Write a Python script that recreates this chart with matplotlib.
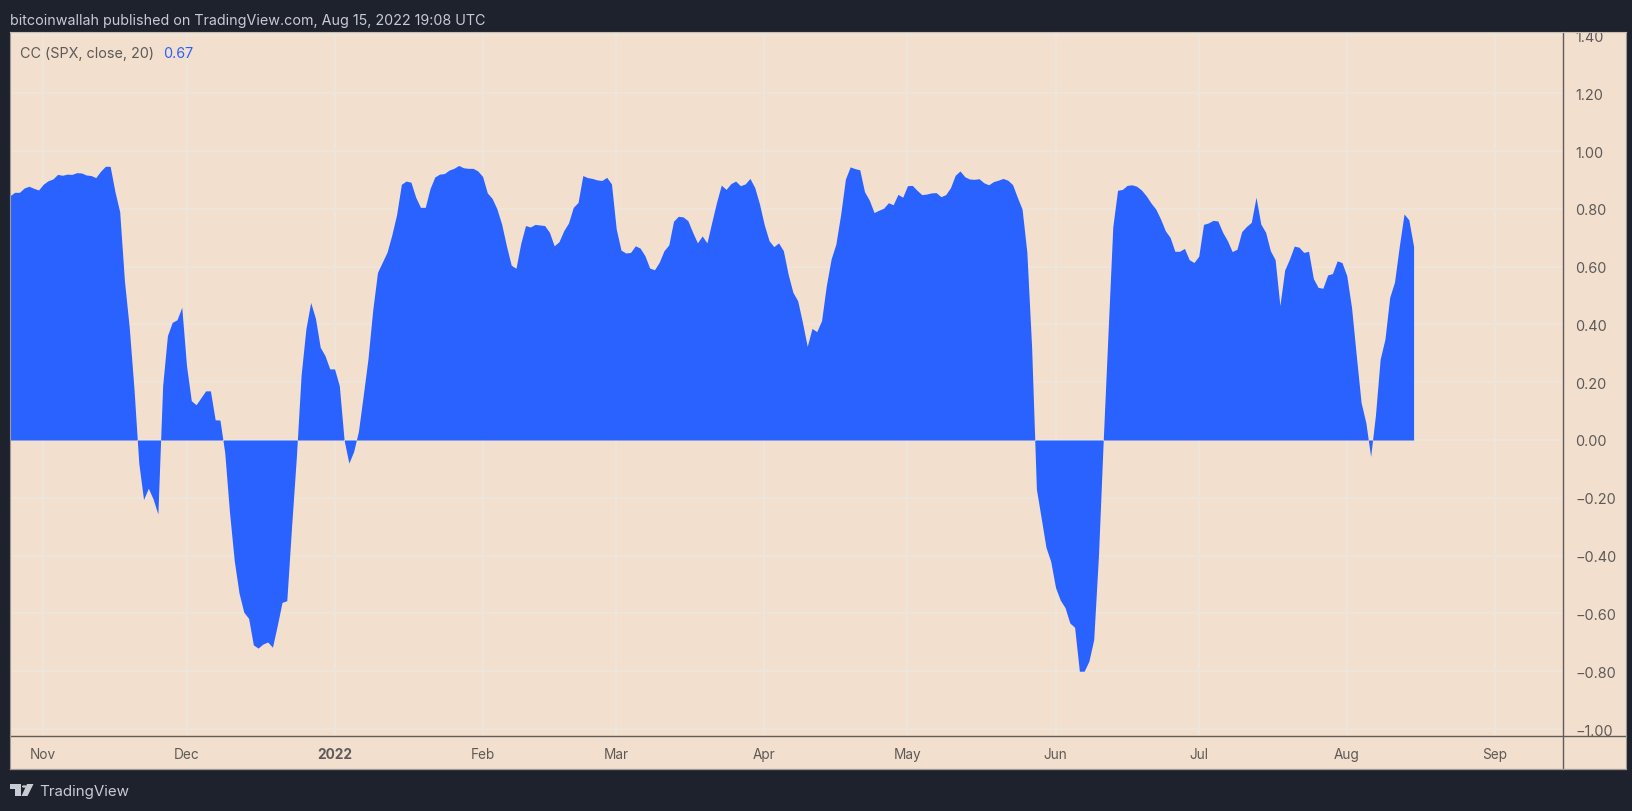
import matplotlib
matplotlib.use("Agg")
import matplotlib.pyplot as plt
import matplotlib.dates as mdates
from matplotlib.patches import Rectangle, Polygon, Circle
from matplotlib.lines import Line2D
import pandas as pd
import numpy as np

oct21 = [.845,.857,.857,.872,.878,.871,.865]
nov21 = [.885,.897,.903,.919,.916,.92,.919,.925,.924,.917,.915,.908,.93,.947,.947,.86,.79,.55,.39,.176,
         -.08,-.206,-.167,-.204,-.256,.188,.361,.407,.416,.459]
dec21 = [.257,.136,.122,.146,.17,.17,.07,.069,-.043,-.25,-.418,-.53,-.596,-.617,-.709,-.72,-.706,-.699,-.717,-.642,
         -.562,-.556,-.30,-.06,.225,.384,.476,.421,.321,.292,.246]
jan22 = [.246,.188,0.0,-.08,-.04,.03,.153,.28,.45,.58,.615,.65,.71,.78,.885,.896,.892,.84,.805,.805,
         .87,.91,.92,.922,.934,.94,.95,.942,.94,.94,.931]
feb22 = [.912,.855,.836,.80,.747,.672,.605,.594,.68,.742,.737,.746,.744,.742,.719,.672,.686,.724,.751,.805,
         .822,.915,.908,.905,.9,.898,.909,.886]
mar22 = [.73,.657,.647,.649,.672,.664,.638,.595,.589,.615,.655,.675,.757,.774,.772,.759,.719,.682,.706,.682,
         .753,.822,.882,.867,.887,.896,.88,.886,.905,.874,.817]
apr22 = [.745,.69,.669,.682,.655,.574,.511,.482,.407,.324,.386,.375,.413,.534,.626,.678,.78,.903,.945,.939,
         .935,.859,.83,.787,.795,.802,.821,.814,.85,.84]
may22 = [.88,.881,.864,.849,.851,.855,.856,.842,.849,.873,.916,.931,.911,.903,.902,.904,.89,.883,.894,.899,
         .905,.899,.884,.84,.799,.65,.32,-.17,-.27,-.371,-.42]
jun22 = [-.51,-.554,-.58,-.633,-.648,-.80,-.80,-.765,-.691,-.40,0.0,.37,.738,.864,.867,.881,.883,.878,.865,.845,
         .82,.799,.765,.724,.701,.653,.653,.663,.624,.614]
jul22 = [.636,.746,.751,.76,.758,.719,.69,.652,.66,.721,.739,.753,.84,.747,.719,.655,.624,.465,.588,.626,
         .671,.667,.649,.653,.559,.528,.525,.571,.576,.62,.614]
aug22 = [.569,.459,.292,.13,.06,-.057,.084,.28,.349,.494,.546,.67,.782,.762,.67]

y_ticks = [1.4,1.2,1.0,.8,.6,.4,.2,0,-.2,-.4,-.6,-.8,-1.0]
month_starts = ["2021-11-01","2021-12-01","2022-01-01","2022-02-01","2022-03-01","2022-04-01","2022-05-01",
                "2022-06-01","2022-07-01","2022-08-01","2022-09-01"]
month_labels = ["Nov","Dec","2022","Feb","Mar","Apr","May","Jun","Jul","Aug","Sep"]

values = np.array(oct21+nov21+dec21+jan22+feb22+mar22+apr22+may22+jun22+jul22+aug22)
dates = pd.date_range("2021-10-25", periods=len(values), freq="D")

W, H = 1633, 812
DARK = "#1E222D"; BG = "#F2DFCE"; BLUE = "#2962FF"; GRID = "#EDE5DC"
LINE = "#5F5C5A"; TXT = "#5D5A58"; HEAD = "#C9CBD3"
plt.rcParams['font.family'] = ['Inter', 'DejaVu Sans']

fig = plt.figure(figsize=(W/100, H/100), dpi=100, facecolor=DARK)
def fx(x): return x/W
def fy(y): return 1-y/H

L, R, T, B = 10, 1563, 33, 737
fig.add_artist(Rectangle((fx(L), fy(770)), (1626-L)/W, (770-T)/H, transform=fig.transFigure,
                         fc=BG, ec="none", zorder=-1))
ax = fig.add_axes([fx(L), fy(B), (R-L)/W, (B-T)/H], facecolor=BG)
ax.fill_between(dates, values, 0, color=BLUE, lw=0, interpolate=True, zorder=3)
ax.set_xlim(pd.Timestamp("2021-10-25 00:40"), pd.Timestamp("2022-09-15 07:00"))
ax.set_ylim((441-737)/289, (441-33)/289)
for s in ax.spines.values():
    s.set_visible(False)
ax.set_axisbelow(True)
ax.grid(True, color=GRID, lw=1.3)
ax.yaxis.tick_right()
ax.set_yticks(y_ticks)
ax.set_yticklabels([f"{v:.2f}".replace("-", "\u2212") for v in y_ticks], fontsize=10.4, color=TXT, ha="left")
ax.tick_params(axis="y", length=0, pad=9)
ax.set_xticks([mdates.date2num(pd.Timestamp(d)) for d in month_starts])
ax.set_xticklabels(month_labels, fontsize=9.8, color=TXT)
ax.tick_params(axis="x", length=0, pad=8)
for lab in ax.get_xticklabels():
    if lab.get_text() == "2022":
        lab.set_fontweight("bold")

# header band hides the part of the top tick label above the pane
fig.add_artist(Rectangle((0, fy(T)), 1, T/H, transform=fig.transFigure, fc=DARK, ec="none", zorder=5))
for (x0, y0, x1, y1, c, w) in [(L, 737, 1626, 737, LINE, 1.0), (R, T, R, 770, LINE, 1.0),
                               (L, 770, 1626, 770, "#A09A95", 0.9), (L, T, L, 770, "#A09A95", 0.8),
                               (1626, T, 1626, 770, "#A09A95", 0.8), (L, T, 1626, T, "#C9BFB5", 0.8)]:
    fig.add_artist(Line2D([fx(x0), fx(x1)], [fy(y0), fy(y1)], color=c, lw=w, zorder=6))

fig.text(fx(10), fy(21), "bitcoinwallah published on TradingView.com, Aug 15, 2022 19:08 UTC",
         fontsize=10.3, color=HEAD, va="center", ha="left", zorder=7)
fig.text(fx(20), fy(54), "CC (SPX, close, 20)", fontsize=10.35, color=TXT, va="center", ha="left", zorder=7)
fig.text(fx(163), fy(54), "0.67", fontsize=10.35, color=BLUE, va="center", ha="left", zorder=7)
fig.text(fx(39), fy(792.5), "TradingView", fontsize=10.9, color=HEAD, va="center", ha="left", zorder=7)

# TradingView logo
def P(pts):
    fig.add_artist(Polygon([(fx(a), fy(b)) for a, b in pts], closed=True, transform=fig.transFigure,
                           fc=HEAD, ec="none", zorder=7))
P([(10, 785), (21, 785), (21, 797), (15.5, 797), (15.5, 790), (10, 790)])
P([(27, 785), (33.5, 785), (27.5, 797), (21.5, 797)])
fig.add_artist(Circle((fx(24.3), fy(787.5)), 2.4/W, transform=fig.transFigure, fc=HEAD, ec="none", zorder=7))

fig.savefig("out.png", dpi=100, facecolor=DARK)
